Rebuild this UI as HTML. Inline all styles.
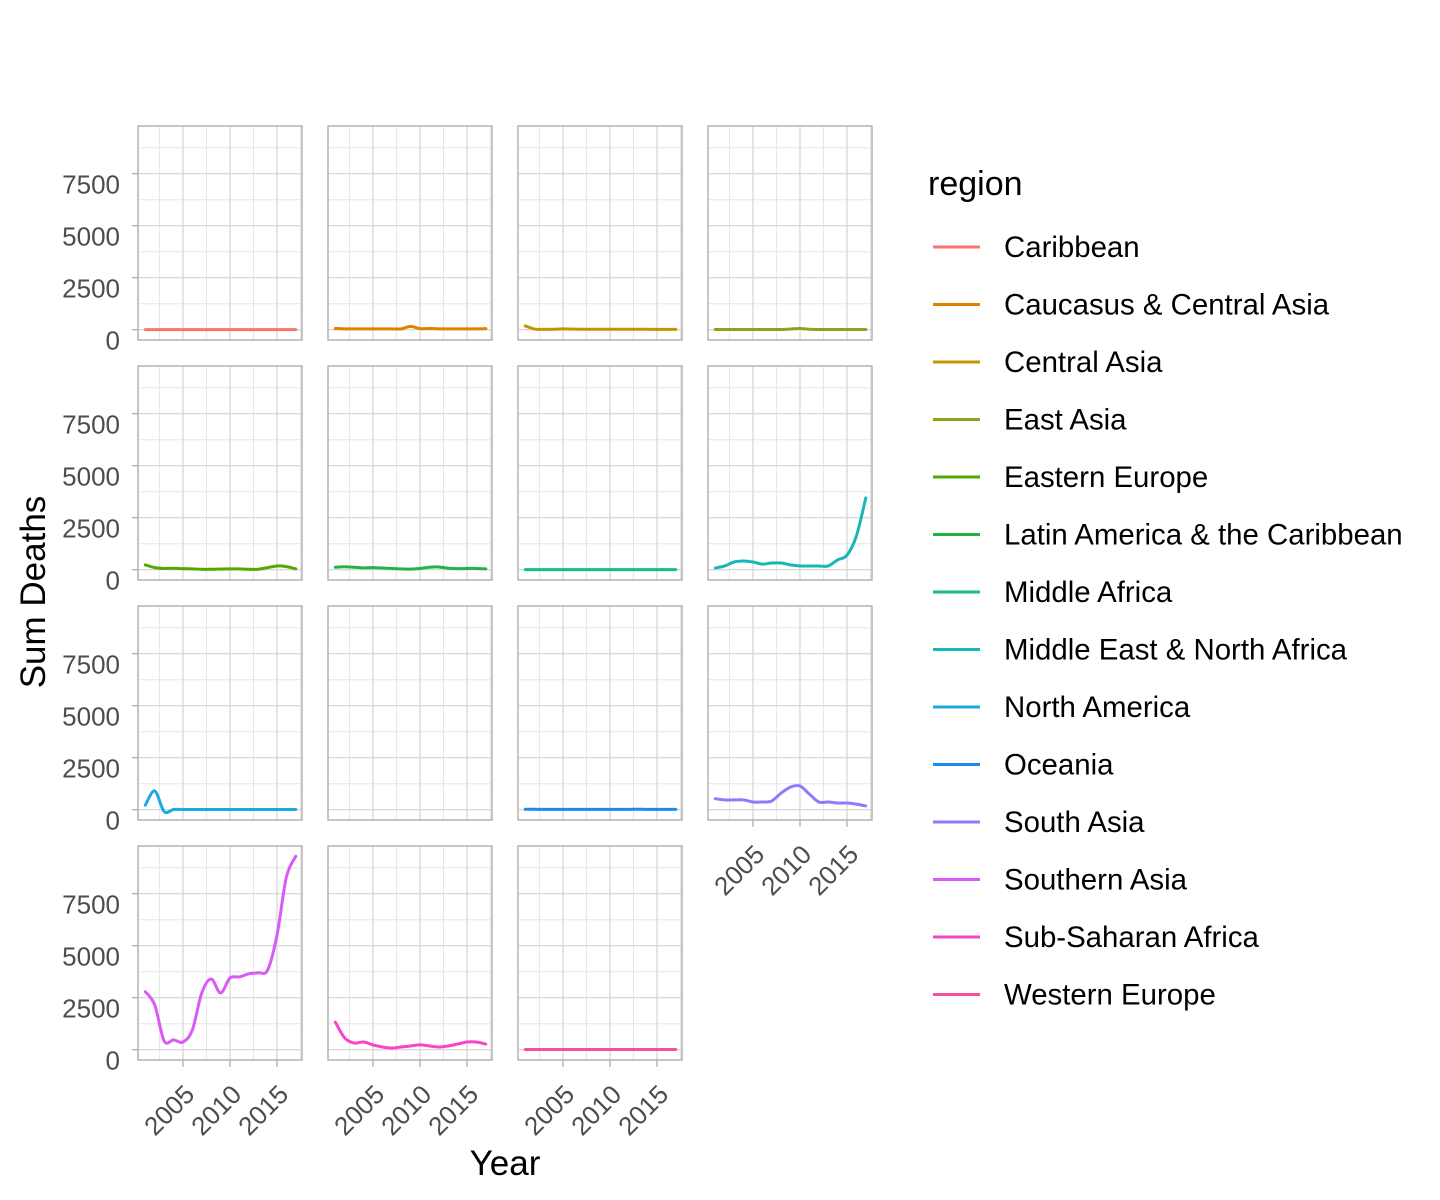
<!DOCTYPE html>
<html><head><meta charset="utf-8"><title>Sum Deaths by region</title>
<style>
html,body{margin:0;padding:0;background:#fff;}
svg{display:block;font-family:"Liberation Sans",Arial,sans-serif;}
</style></head>
<body>
<svg id="chart" width="1440" height="1200" viewBox="0 0 1440 1200" xmlns="http://www.w3.org/2000/svg">
<rect width="1440" height="1200" fill="#fff"/>
<g id="panels"></g>
<text x="505" y="1175" font-size="35" text-anchor="middle" fill="#000">Year</text>
<text transform="translate(45,592) rotate(-90)" font-size="35" text-anchor="middle" fill="#000">Sum Deaths</text>
<g id="legend">
<text x="928" y="195" font-size="34" fill="#000">region</text>
</g>
</svg>
<script>
const years = [2001,2002,2003,2004,2005,2006,2007,2008,2009,2010,2011,2012,2013,2014,2015,2016,2017];
const regions = ["Caribbean","Caucasus & Central Asia","Central Asia","East Asia","Eastern Europe","Latin America & the Caribbean","Middle Africa","Middle East & North Africa","North America","Oceania","South Asia","Southern Asia","Sub-Saharan Africa","Western Europe"];
const colors = ["#F8766D","#E08000","#C49500","#8FA31A","#53A800","#20B447","#16BE80","#17B7B5","#1EA8E2","#1A8CF0","#9178FF","#D95AF5","#F545C9","#F7509A"];
const caribbean = [5,5,5,5,5,5,5,5,5,5,5,5,5,5,5,5,5];
const caucasus = [60,40,40,40,40,40,40,40,160,50,60,40,40,40,40,40,50];
const centralAsia = [180,30,20,20,40,30,20,20,20,20,20,20,20,20,15,15,15];
const eastAsia = [10,10,10,10,10,10,10,10,30,60,20,10,10,10,10,10,10];
const easternEurope = [230,100,60,70,50,40,20,20,30,40,40,20,20,100,180,150,40];
const latinAmerica = [120,140,120,90,100,80,60,40,30,60,120,130,70,50,60,60,40];
const middleAfrica = [5,5,5,5,5,5,5,5,5,5,5,5,5,5,5,5,5];
const mena = [80,180,370,420,370,270,320,320,230,180,180,180,180,470,700,1620,3450];
const northAmerica = [220,900,-90,10,10,10,10,10,10,10,10,10,10,10,10,10,10];
const oceania = [20,20,15,15,15,15,15,15,15,15,15,15,25,15,15,15,15];
const southAsia = [530,470,470,470,370,370,420,800,1090,1140,750,370,370,320,320,270,180];
const southernAsia = [2790,2150,420,470,370,950,2730,3400,2730,3450,3500,3650,3700,3830,5500,8300,9300];
const subSaharan = [1330,560,320,370,230,130,80,130,180,230,180,130,180,270,370,370,270];
const westernEurope = [10,10,10,10,10,10,10,10,10,10,10,10,10,10,10,10,10];
const yTicks = [0,2500,5000,7500];
const yTickLabels = ["0","2500","5000","7500"];
const xTicks = [2005,2010,2015];
const xTickLabels = ["2005","2010","2015"];

const seriesList = [caribbean,caucasus,centralAsia,eastAsia,easternEurope,latinAmerica,middleAfrica,mena,northAmerica,null,oceania,southAsia,southernAsia,subSaharan,westernEurope];
const seriesColorIdx = [0,1,2,3,4,5,6,7,8,-1,9,10,11,12,13];

const NS="http://www.w3.org/2000/svg";
const PW=164, PH=214, X0=138, Y0=126, DX=190, DY=240;
const xDom=[2000.22,2017.66], yDom=[-495,9795];
function xs(v,left){return left+(v-xDom[0])/(xDom[1]-xDom[0])*PW;}
function ys(v,top){return top+PH-(v-yDom[0])/(yDom[1]-yDom[0])*PH;}
function mk(tag,attrs,parent){const e=document.createElementNS(NS,tag);for(const k in attrs)e.setAttribute(k,attrs[k]);parent.appendChild(e);return e;}
function smoothPath(pts){
  let d="M"+pts[0][0].toFixed(2)+","+pts[0][1].toFixed(2);
  for(let i=0;i<pts.length-1;i++){
    const p0=pts[i-1]||pts[i],p1=pts[i],p2=pts[i+1],p3=pts[i+2]||p2;
    const c1=[p1[0]+(p2[0]-p0[0])/6,p1[1]+(p2[1]-p0[1])/6];
    const c2=[p2[0]-(p3[0]-p1[0])/6,p2[1]-(p3[1]-p1[1])/6];
    d+="C"+c1[0].toFixed(2)+","+c1[1].toFixed(2)+" "+c2[0].toFixed(2)+","+c2[1].toFixed(2)+" "+p2[0].toFixed(2)+","+p2[1].toFixed(2);
  }
  return d;
}
const panelsG=document.getElementById('panels');
for(let i=0;i<seriesList.length;i++){
  const r=Math.floor(i/4), c=i%4;
  const left=X0+c*DX, top=Y0+r*DY;
  const g=mk('g',{},panelsG);
  
  
  [1250,3750,6250,8750].forEach(v=>{const l=mk('line',{x1:left,x2:left+PW,y1:ys(v,top),y2:ys(v,top),stroke:'#e6e6e6','stroke-width':1},g);
    
    });
  [2002.5,2007.5,2012.5,2017.5].forEach(v=>{const l=mk('line',{x1:xs(v,left),x2:xs(v,left),y1:top,y2:top+PH,stroke:'#e6e6e6','stroke-width':1},g);
    
    });
  yTicks.forEach(v=>{const l=mk('line',{x1:left,x2:left+PW,y1:ys(v,top),y2:ys(v,top),stroke:'#dadada','stroke-width':1.4},g);
    
    });
  xTicks.forEach(v=>{const l=mk('line',{x1:xs(v,left),x2:xs(v,left),y1:top,y2:top+PH,stroke:'#dadada','stroke-width':1.4},g);
    
    });
  const s=seriesList[i];
  if(s){
    const pts=years.map((y,k)=>[xs(y,left),ys(s[k],top)]);
    const p=mk('path',{d:smoothPath(pts),fill:'none',stroke:colors[seriesColorIdx[i]],'stroke-width':3,'stroke-linejoin':'round','stroke-linecap':'round'},g);
    
    
  }
  const b=mk('rect',{x:left,y:top,width:PW,height:PH,fill:'none',stroke:'#b3b3b3','stroke-width':1.5},g);
  
  
  if(c===0){
    yTicks.forEach((v,k)=>{
      const t=mk('line',{x1:left-6,x2:left,y1:ys(v,top),y2:ys(v,top),stroke:'#b3b3b3','stroke-width':1.4},g);
      
      
      const tx=mk('text',{x:left-18,y:ys(v,top)+20,'font-size':26,'text-anchor':'end',fill:'#4d4d4d'},g);
      tx.textContent=yTickLabels[k];
      
      
    });
  }
  const isBottom = (r===3) || (r===2 && c===3);
  if(isBottom){
    xTicks.forEach((v,k)=>{
      const x=xs(v,left), yb=top+PH;
      const t=mk('line',{x1:x,x2:x,y1:yb,y2:yb+7,stroke:'#b3b3b3','stroke-width':1.4},g);
      
      
      const tx=mk('text',{transform:'translate('+(x+13)+','+(yb+36)+') rotate(-45)','font-size':26,'text-anchor':'end',fill:'#4d4d4d'},g);
      tx.textContent=xTickLabels[k];
      
      
    });
  }
}
const legendG=document.getElementById('legend');
regions.forEach((name,k)=>{
  const y=247+k*57.5;
  const g=mk('g',{},legendG);
  
  
  mk('line',{x1:933,x2:980,y1:y,y2:y,stroke:colors[k],'stroke-width':3},g);
  const t=mk('text',{x:1004,y:y+10,'font-size':29.4,fill:'#000'},g);
  t.textContent=name;
  
  
});
</script>
</body></html>
